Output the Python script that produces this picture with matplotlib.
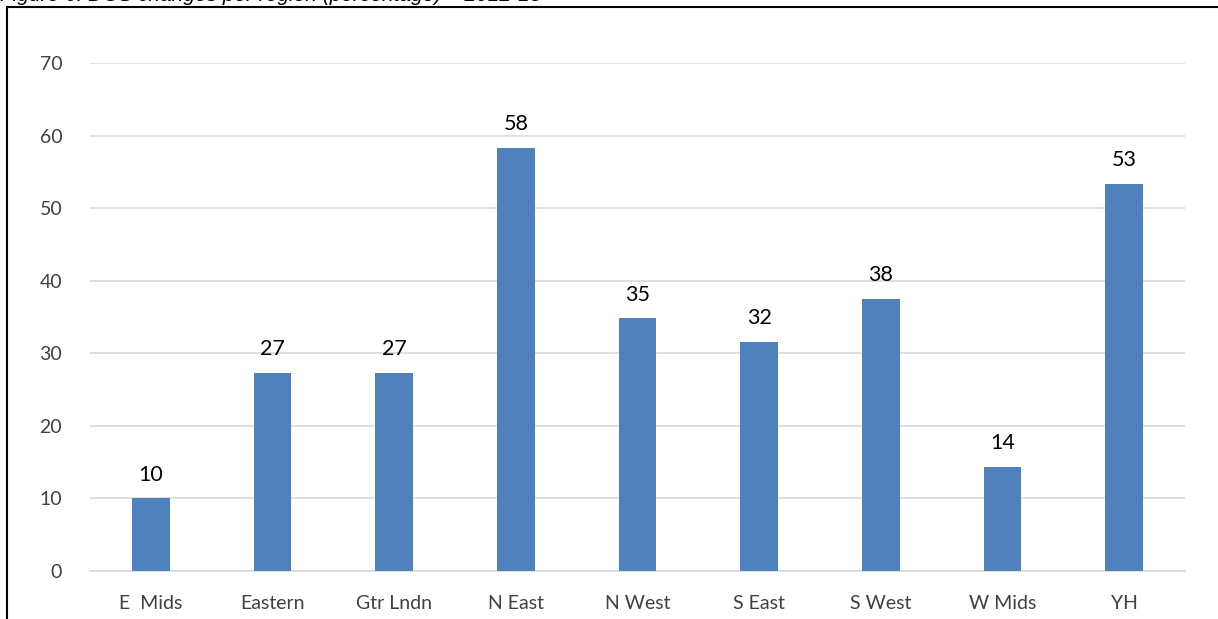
import matplotlib
matplotlib.use("Agg")
import matplotlib.pyplot as plt
from matplotlib.patches import Rectangle

regions = ["E  Mids", "Eastern", "Gtr Lndn", "N East", "N West", "S East", "S West", "W Mids", "YH"]
values = [10.0, 27.3, 27.3, 58.3, 34.8, 31.6, 37.5, 14.3, 53.3]
labels = ["10", "27", "27", "58", "35", "32", "38", "14", "53"]
yticks = [0, 10, 20, 30, 40, 50, 60, 70]

plt.rcParams['font.family'] = ['Lato', 'DejaVu Sans']

fig = plt.figure(figsize=(12.18, 6.19), dpi=100)
ax = fig.add_axes([90 / 1218, (619 - 571) / 619, (1185 - 90) / 1218, (571 - 63) / 619])

x = range(len(regions))
ax.bar(x, values, width=0.31, color="#4F81BD", zorder=3)
for i, (v, t) in enumerate(zip(values, labels)):
    ax.annotate(t, (i, v), xytext=(0, 10), textcoords="offset points",
                ha="center", va="bottom", fontsize=15.5, color="black")

ax.set_xlim(-0.5, len(regions) - 0.5)
ax.set_ylim(0, 70)
ax.set_yticks(yticks)
ax.set_xticks(list(x))
ax.set_xticklabels(regions)
ax.grid(axis="y", color="#D9D9D9", linewidth=1.2, zorder=0)
for s in ["top", "right", "left"]:
    ax.spines[s].set_visible(False)
ax.spines["bottom"].set_color("#D9D9D9")
ax.spines["bottom"].set_linewidth(1.2)
ax.tick_params(axis="both", length=0, labelsize=14, colors="#404040")
ax.tick_params(axis="y", pad=20)
ax.tick_params(axis="x", pad=17)

# outer frame (cut off at right and bottom)
fig.patches.append(Rectangle((7 / 1218, -0.1), 1.2, (619 - 7) / 619 + 0.1,
                             transform=fig.transFigure, fill=False,
                             edgecolor="black", linewidth=1.5))
# title, mostly cut off at the top edge as in the source
fig.text(0.0, 1.0 + 0.008, "Figure 6: DCS changes per region (percentage) \u2013 2012-13",
         fontsize=15, style="italic", family="Liberation Sans", va="center", ha="left")

fig.savefig("out.png", dpi=100)
